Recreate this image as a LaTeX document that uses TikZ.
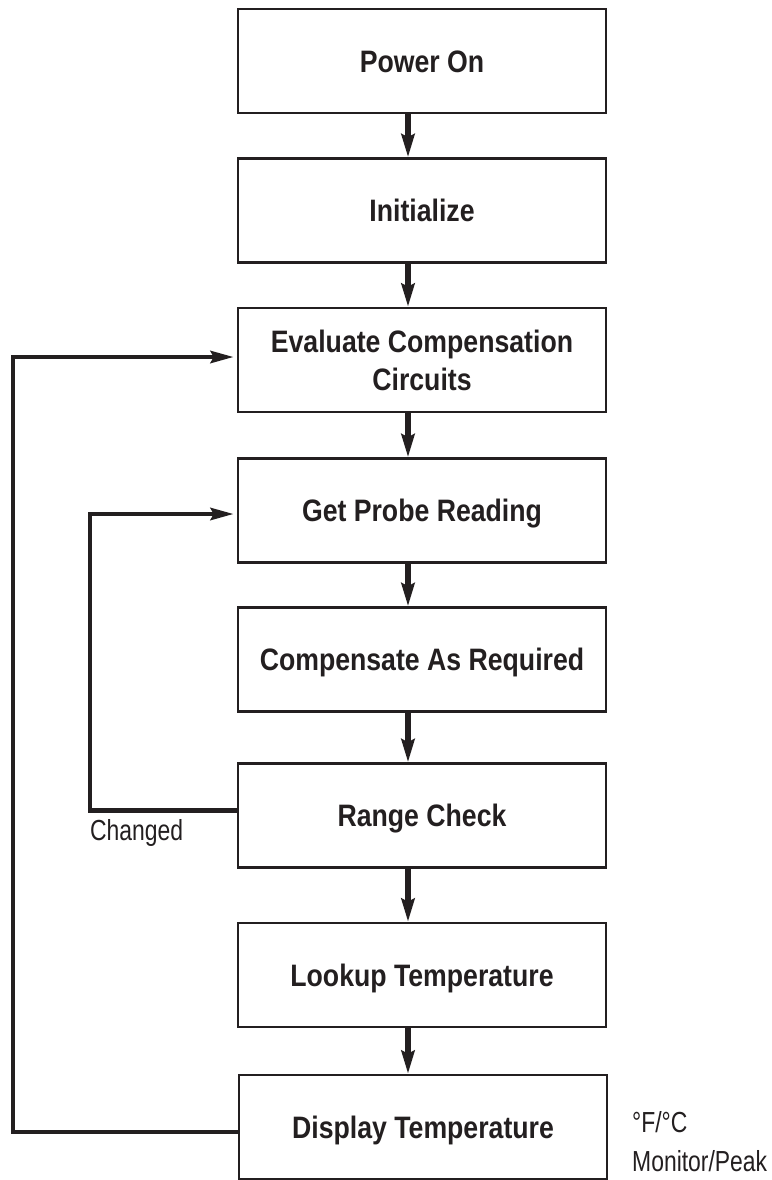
\documentclass[tikz,border=0pt]{standalone}
\usepackage{fontspec}
\setmainfont{Liberation Sans}[FakeStretch=0.79]
\newfontfamily\boxfont{Liberation Sans}[FakeStretch=0.86]
\usetikzlibrary{arrows.meta}
\definecolor{ink}{RGB}{35,31,32}

\begin{document}
\begin{tikzpicture}[x=1bp,y=-1bp,
    stepbox/.style={draw=ink,line width=2.5bp,minimum width=368bp,minimum height=104bp,inner sep=0pt,
        text=ink,font=\boxfont\bfseries\fontsize{31bp}{38bp}\selectfont,text height=22bp,text depth=0bp},
    flow/.style={draw=ink,line width=5.5bp,-{Stealth[length=23bp,width=13bp,inset=3bp]}},
    loopline/.style={draw=ink,line width=4.5bp,line join=miter,-{Stealth[length=23bp,width=12bp,inset=3bp]},shorten >=3bp},
    note/.style={inner sep=0pt,text=ink,font=\fontsize{29bp}{39bp}\selectfont}]
    \useasboundingbox (0,0) rectangle (772,1180);

    % process steps
    \node[stepbox] (pwr) at (422,61) {Power On};
    \node[stepbox] (init) at (422,210.5) {Initialize};
    \node[stepbox,align=center,text height=60bp] (eval) at (422,360) {Evaluate Compensation\\Circuits};
    \node[stepbox] (probe) at (422,510.5) {Get Probe Reading};
    \node[stepbox] (comp) at (422,659.5) {Compensate As Required};
    \node[stepbox] (range) at (422,815.5) {Range Check};
    \node[stepbox] (lookup) at (422,975) {Lookup Temperature};
    \node[stepbox] (disp) at (423,1127) {Display Temperature};

    % side notes
    \node[note,anchor=base west] (chg) at (90,840) {Changed};
    \node[note,anchor=base west] (unit) at (632,1132) {°F/°C};
    \node[note,anchor=base west] (mode) at (632,1171) {Monitor/Peak};

    % main flow
    \coordinate (ax) at (408,0);
    \draw[flow] (pwr.south -| ax) -- (init.north -| ax);
    \draw[flow] (init.south -| ax) -- (eval.north -| ax);
    \draw[flow] (eval.south -| ax) -- (probe.north -| ax);
    \draw[flow] (probe.south -| ax) -- (comp.north -| ax);
    \draw[flow] (comp.south -| ax) -- (range.north -| ax);
    \draw[flow] (range.south -| ax) -- (lookup.north -| ax);
    \draw[flow] (lookup.south -| ax) -- (disp.north -| ax);

    % loops back
    \coordinate (outx) at (13,0);
    \coordinate (inx) at (90,0);
    \coordinate (dispout) at ([yshift=-5bp]disp.west);
    \coordinate (evalin) at ([yshift=3bp]eval.west);
    \coordinate (rangeout) at ([yshift=5bp]range.west);
    \coordinate (probein) at ([yshift=-3.5bp]probe.west);
    \draw[loopline] (dispout) -| (outx |- evalin) -- (evalin);
    \draw[loopline] (rangeout) -| (inx |- probein) -- (probein);
\end{tikzpicture}
\end{document}
